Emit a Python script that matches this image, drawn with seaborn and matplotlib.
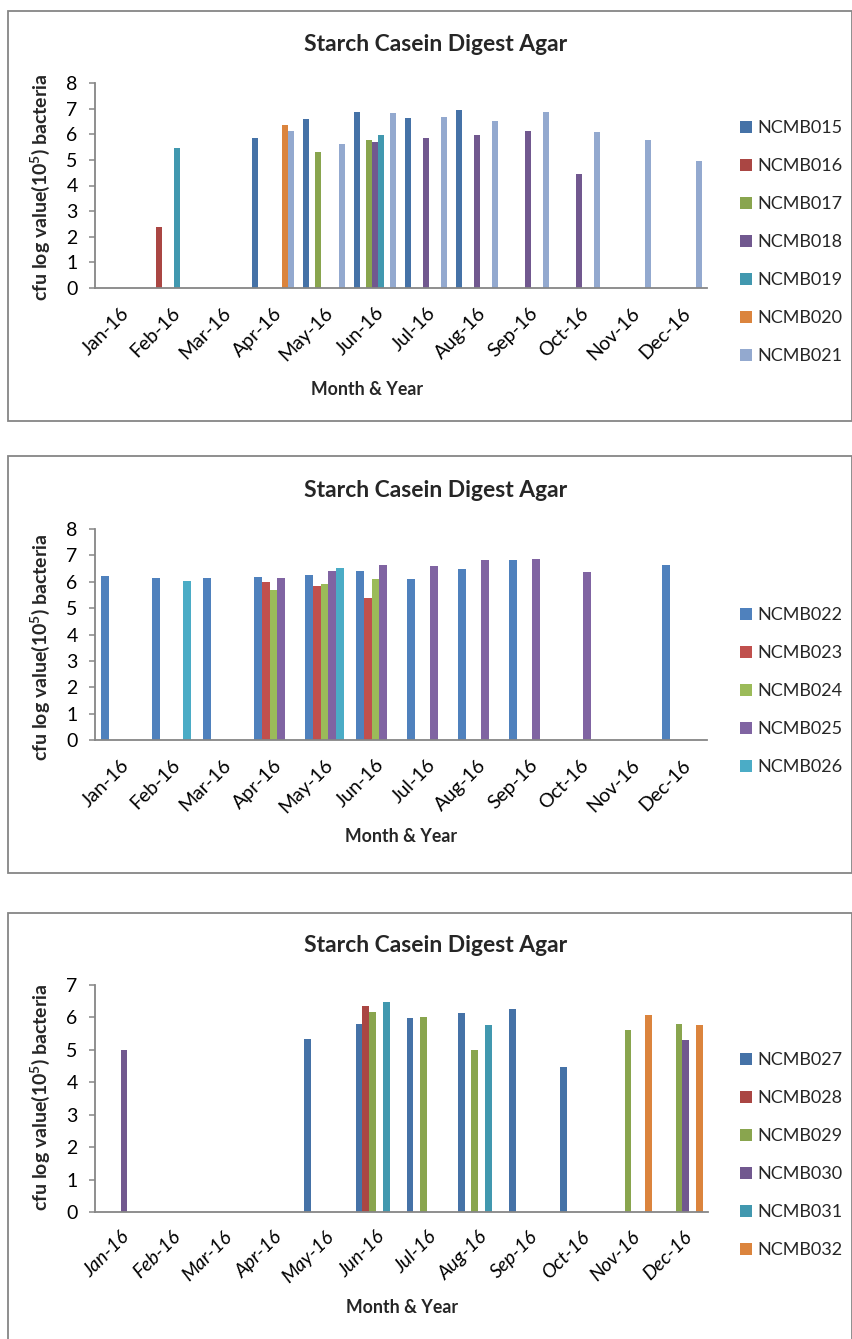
import numpy as np
import pandas as pd
import matplotlib
matplotlib.use("Agg")
import matplotlib.pyplot as plt
import matplotlib.transforms as mtransforms
from matplotlib.patches import Patch, Rectangle
import seaborn as sns

nan = np.nan

months = ["Jan-16", "Feb-16", "Mar-16", "Apr-16", "May-16", "Jun-16",
          "Jul-16", "Aug-16", "Sep-16", "Oct-16", "Nov-16", "Dec-16"]

# ---- Chart 1: NCMB015 - NCMB021 ----
strains_1 = ["NCMB015", "NCMB016", "NCMB017", "NCMB018", "NCMB019", "NCMB020", "NCMB021"]
ncmb015 = [nan, nan, nan, 5.84, 6.61, 6.87, 6.64, 6.96, nan, nan, nan, nan]
ncmb016 = [nan, 2.39, nan, nan, nan, nan, nan, nan, nan, nan, nan, nan]
ncmb017 = [nan, nan, nan, nan, 5.30, 5.78, nan, nan, nan, nan, nan, nan]
ncmb018 = [nan, nan, nan, nan, nan, 5.71, 5.84, 5.96, 6.13, 4.46, nan, nan]
ncmb019 = [nan, 5.47, nan, nan, nan, 5.97, nan, nan, nan, nan, nan, nan]
ncmb020 = [nan, nan, nan, 6.38, nan, nan, nan, nan, nan, nan, nan, nan]
ncmb021 = [nan, nan, nan, 6.13, 5.62, 6.81, 6.66, 6.52, 6.87, 6.08, 5.79, 4.95]

# ---- Chart 2: NCMB022 - NCMB026 ----
strains_2 = ["NCMB022", "NCMB023", "NCMB024", "NCMB025", "NCMB026"]
ncmb022 = [6.20, 6.15, 6.14, 6.17, 6.27, 6.39, 6.12, 6.50, 6.81, nan, nan, 6.64]
ncmb023 = [nan, nan, nan, 5.98, 5.85, 5.39, nan, nan, nan, nan, nan, nan]
ncmb024 = [nan, nan, nan, 5.69, 5.91, 6.10, nan, nan, nan, nan, nan, nan]
ncmb025 = [nan, nan, nan, 6.16, 6.39, 6.63, 6.60, 6.81, 6.86, 6.36, nan, nan]
ncmb026 = [nan, 6.03, nan, nan, 6.52, nan, nan, nan, nan, nan, nan, nan]

# ---- Chart 3: NCMB027 - NCMB032 ----
strains_3 = ["NCMB027", "NCMB028", "NCMB029", "NCMB030", "NCMB031", "NCMB032"]
ncmb027 = [nan, nan, nan, nan, 5.34, 5.79, 5.97, 6.13, 6.27, 4.47, nan, nan]
ncmb028 = [nan, nan, nan, nan, nan, 6.35, nan, nan, nan, nan, nan, nan]
ncmb029 = [nan, nan, nan, nan, nan, 6.16, 6.02, 5.00, nan, nan, 5.62, 5.79]
ncmb030 = [5.00, nan, nan, nan, nan, nan, nan, nan, nan, nan, nan, 5.29]
ncmb031 = [nan, nan, nan, nan, nan, 6.48, nan, 5.78, nan, nan, nan, nan]
ncmb032 = [nan, nan, nan, nan, nan, nan, nan, nan, nan, nan, 6.08, 5.77]

palette_dark = ["#4572A7", "#AA4643", "#89A54E", "#71588F", "#4198AF", "#DB843D", "#93A9CF"]
palette_light = ["#4F81BD", "#C0504D", "#9BBB59", "#8064A2", "#4BACC6"]

title_text = "Starch Casein Digest Agar"
ylabel_text = r"cfu log value(10$^{\mathbf{5}}$) bacteria"
xlabel_text = "Month & Year"

sns.set_theme(style="white")
plt.rcParams["font.family"] = ["Lato", "DejaVu Sans"]
plt.rcParams["mathtext.fontset"] = "custom"
plt.rcParams["mathtext.rm"] = "Lato"
plt.rcParams["mathtext.bf"] = "Lato:bold"

W, H = 853, 1339
fig = plt.figure(figsize=(W / 100, H / 100), dpi=100)
fig.patch.set_facecolor("white")

GRAY = "#868686"


def long_frame(strains, series):
    rows = []
    for name, vals in zip(strains, series):
        for m, v in zip(months, vals):
            if not np.isnan(v):
                rows.append({"month": m, "strain": name, "value": v})
    return pd.DataFrame(rows)


def fy(y):
    return 1 - y / H


def panel(box, plot, strains, series, colors, ymax, width, legend_top,
          title_base, ylabel_y, xlabel_pos, italic_ticks=False):
    # chart frame
    bx0, by0, bx1, by1 = box
    fig.add_artist(Rectangle((bx0 / W, fy(by1)), (bx1 - bx0) / W, (by1 - by0) / H,
                             transform=fig.transFigure, fill=False,
                             edgecolor=GRAY, linewidth=1.3))
    l, t, r, b = plot
    ax = fig.add_axes([l / W, fy(b), (r - l) / W, (b - t) / H])
    df = long_frame(strains, series)
    sns.barplot(data=df, x="month", y="value", hue="strain", order=months,
                hue_order=strains, palette=colors, width=width, dodge=True,
                saturation=1, errorbar=None, legend=False, linewidth=0, ax=ax)
    ax.set_ylim(0, ymax)
    ax.set_xlim(-0.5, 11.5)
    ax.set_yticks(range(ymax + 1))
    ax.set_xlabel("")
    ax.set_ylabel("")
    for s in ["top", "right"]:
        ax.spines[s].set_visible(False)
    for s in ["left", "bottom"]:
        ax.spines[s].set_color(GRAY)
        ax.spines[s].set_linewidth(1.3)
    ax.tick_params(axis="y", length=4.5, width=1.1, color=GRAY, pad=8,
                   labelsize=14, labelcolor="black", left=True)
    ax.tick_params(axis="x", length=0, pad=16, labelsize=14, labelcolor="black")
    shift = mtransforms.ScaledTranslation(6 / 100, 0, fig.dpi_scale_trans)
    for lab in ax.get_xticklabels():
        lab.set_rotation(45)
        lab.set_ha("right")
        lab.set_va("center")
        lab.set_rotation_mode("anchor")
        lab.set_transform(lab.get_transform() + shift)
        if italic_ticks:
            lab.set_style("italic")

    fig.text(436 / W, fy(title_base), title_text, ha="center", va="baseline",
             fontsize=16.5, fontweight="bold")
    fig.text(40 / W, fy(ylabel_y), ylabel_text, ha="center", va="center",
             rotation=90, fontsize=14, fontweight="bold")
    fig.text(xlabel_pos[0] / W, fy(xlabel_pos[1]), xlabel_text, ha="center",
             va="baseline", fontsize=12.8, fontweight="bold")

    handles = [Patch(facecolor=c, edgecolor="none") for c in colors[:len(strains)]]
    ax.legend(handles, strains, loc="upper left",
              bbox_to_anchor=(740 / W, fy(legend_top)),
              bbox_transform=fig.transFigure, frameon=False, fontsize=13,
              handlelength=0.65, handleheight=0.65, handletextpad=0.3,
              labelspacing=1.22, borderpad=0, borderaxespad=0)
    return ax


panel((8, 11, 852, 421), (95, 83, 707, 288), strains_1,
      [ncmb015, ncmb016, ncmb017, ncmb018, ncmb019, ncmb020, ncmb021],
      palette_dark, 8, 7 / 8.5, 120, 51, 187, (367, 395))

panel((8, 456, 852, 873), (95, 529, 707, 740), strains_2,
      [ncmb022, ncmb023, ncmb024, ncmb025, ncmb026],
      palette_light, 8, 5 / 6.5, 607, 497, 647, (401, 842))

panel((8, 913, 852, 1345), (95, 985, 708, 1212), strains_3,
      [ncmb027, ncmb028, ncmb029, ncmb030, ncmb031, ncmb032],
      palette_dark[:6], 7, 6 / 7.5, 1052, 952, 1097, (402, 1313),
      italic_ticks=True)

fig.savefig("out.png", dpi=100, facecolor="white")
